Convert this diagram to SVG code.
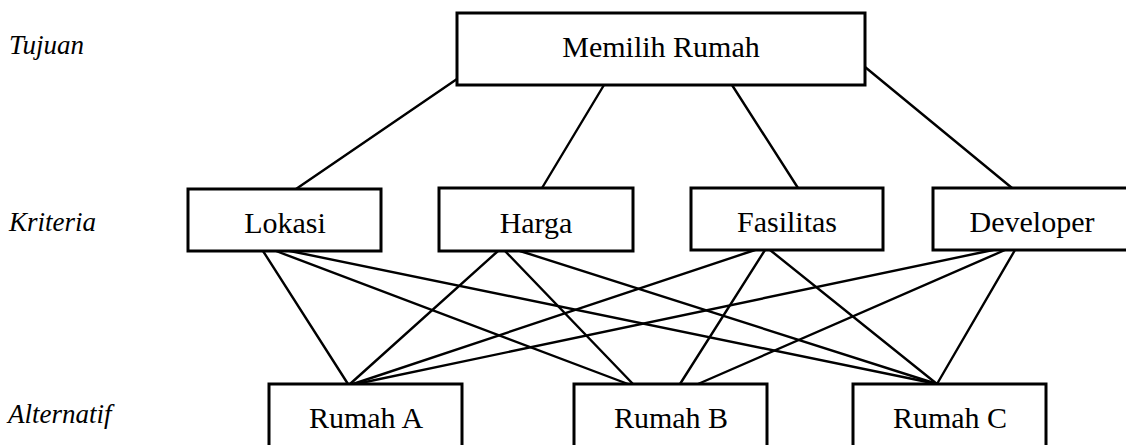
<svg xmlns="http://www.w3.org/2000/svg" width="1126" height="445" viewBox="0 0 1126 445">
  <style>
    .box { fill: #fff; stroke: #000; stroke-width: 3; }
    .label { font-family: "Liberation Serif", "DejaVu Serif", serif; font-size: 30px; fill: #000; text-anchor: middle; }
    .level { font-family: "Liberation Serif", "DejaVu Serif", serif; font-size: 27px; font-style: italic; fill: #000; }
    .edge { stroke: #000; stroke-width: 2.4; fill: none; stroke-linecap: round; }
  </style>
  <rect width="1126" height="445" fill="#fff"/>

  <!-- level captions -->
  <g id="levels">
    <text class="level" x="9" y="54">Tujuan</text>
    <text class="level" x="9" y="231">Kriteria</text>
    <text class="level" x="8" y="423">Alternatif</text>
  </g>

  <!-- connectors -->
  <g id="connectors">
    <!-- goal to criteria -->
    <line class="edge" x1="457" y1="79" x2="296" y2="189"/>
    <line class="edge" x1="604" y1="85" x2="542" y2="188"/>
    <line class="edge" x1="732" y1="85" x2="798" y2="188"/>
    <line class="edge" x1="865" y1="67" x2="1012" y2="188"/>
    <!-- Lokasi -->
    <line class="edge" x1="263" y1="251" x2="348" y2="384"/>
    <line class="edge" x1="276" y1="251" x2="628" y2="384"/>
    <line class="edge" x1="290" y1="251" x2="937" y2="384"/>
    <!-- Harga -->
    <line class="edge" x1="498" y1="251" x2="350" y2="384"/>
    <line class="edge" x1="505" y1="251" x2="633" y2="384"/>
    <line class="edge" x1="520" y1="251" x2="937" y2="384"/>
    <!-- Fasilitas -->
    <line class="edge" x1="755" y1="250" x2="353" y2="384"/>
    <line class="edge" x1="765" y1="250" x2="680" y2="384"/>
    <line class="edge" x1="770" y1="250" x2="937" y2="384"/>
    <!-- Developer -->
    <line class="edge" x1="993" y1="250" x2="356" y2="384"/>
    <line class="edge" x1="1005" y1="250" x2="698" y2="384"/>
    <line class="edge" x1="1015" y1="250" x2="937" y2="384"/>
  </g>

  <g id="goal">
    <rect class="box" x="457" y="13" width="408" height="72"/>
    <text class="label" x="661" y="57">Memilih Rumah</text>
  </g>

  <g id="lokasi">
    <rect class="box" x="188" y="189" width="193" height="62"/>
    <text class="label" x="285" y="233">Lokasi</text>
  </g>
  <g id="harga">
    <rect class="box" x="439" y="188" width="194" height="63"/>
    <text class="label" x="536" y="233">Harga</text>
  </g>
  <g id="fasilitas">
    <rect class="box" x="691" y="188" width="192" height="62"/>
    <text class="label" x="787" y="232">Fasilitas</text>
  </g>
  <g id="developer">
    <rect class="box" x="933" y="188" width="200" height="62"/>
    <text class="label" x="1032" y="232">Developer</text>
  </g>

  <g id="rumah-a">
    <rect class="box" x="269" y="384" width="193" height="70"/>
    <text class="label" x="366" y="428">Rumah A</text>
  </g>
  <g id="rumah-b">
    <rect class="box" x="574" y="384" width="193" height="70"/>
    <text class="label" x="671" y="428">Rumah B</text>
  </g>
  <g id="rumah-c">
    <rect class="box" x="853" y="384" width="193" height="70"/>
    <text class="label" x="950" y="428">Rumah C</text>
  </g>
</svg>
